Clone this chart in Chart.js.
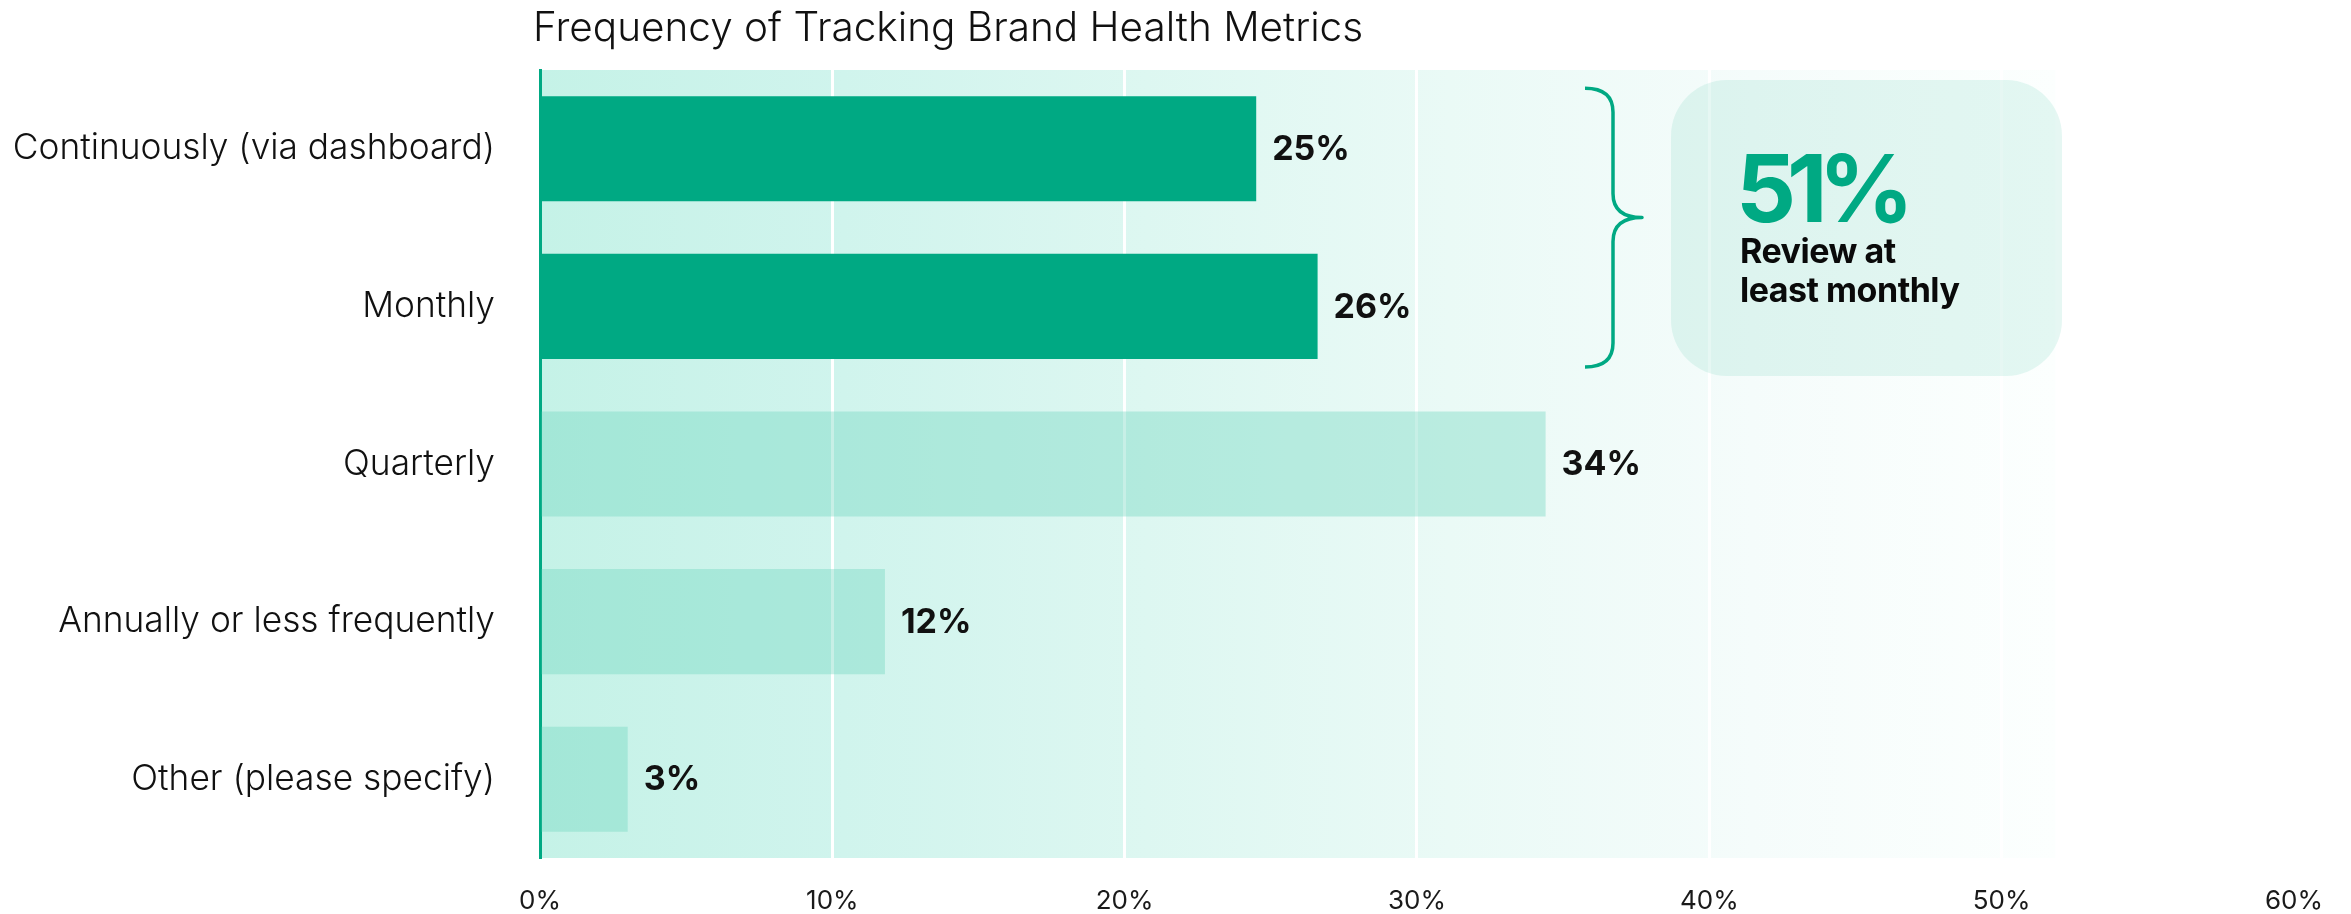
<!DOCTYPE html>
<html>
<head>
<meta charset="utf-8">
<script src="https://cdn.jsdelivr.net/npm/chart.js@4/dist/chart.umd.min.js"></script>
<style>
  html, body { margin: 0; padding: 0; background: #ffffff; }
  #wrap { width: 2351px; height: 914px; position: relative; }
  canvas { display: block; }
</style>
</head>
<body>
<div id="wrap"><canvas id="c" width="2351" height="914"></canvas></div>
<script>
// ---- data ----
const categories = [
  "Continuously (via dashboard)",
  "Monthly",
  "Quarterly",
  "Annually or less frequently",
  "Other (please specify)"
];
const shares = [24.5, 26.6, 34.4, 11.8, 3.0];
const valueLabels = ["25%", "26%", "34%", "12%", "3%"];
const highlighted = [true, true, false, false, false];
const xTicks = [0, 10, 20, 30, 40, 50, 60];
const chartTitle = "Frequency of Tracking Brand Health Metrics";
const calloutValue = "51%";
const calloutLines = ["Review at", "least monthly"];

// ---- styles ----
const GREEN = "#00A983";
const LIGHT = "rgba(111,213,191,0.39)";
const FONT = "Inter, 'Noto Sans', 'DejaVu Sans', sans-serif";

const backgroundPlugin = {
  id: "plotBackground",
  beforeDraw(chart) {
    const { ctx, chartArea: a } = chart;
    const right = a.left + (a.right - a.left) * 0.864;
    const g = ctx.createLinearGradient(a.left, 0, right, 0);
    g.addColorStop(0, "rgb(197,242,231)");
    g.addColorStop(0.2, "rgb(208,244,237)");
    g.addColorStop(0.4, "rgb(221,247,241)");
    g.addColorStop(0.6, "rgb(234,250,246)");
    g.addColorStop(0.8, "rgb(245,252,251)");
    g.addColorStop(1, "rgb(252,255,254)");
    ctx.save();
    ctx.fillStyle = g;
    ctx.fillRect(a.left, a.top, right - a.left, a.bottom - a.top);
    ctx.restore();
  }
};

const valueLabelPlugin = {
  id: "valueLabels",
  afterDatasetsDraw(chart) {
    const { ctx } = chart;
    const meta = chart.getDatasetMeta(0);
    ctx.save();
    ctx.font = "700 34px " + FONT;
    ctx.fillStyle = "#111111";
    ctx.textAlign = "left";
    ctx.textBaseline = "middle";
    meta.data.forEach((bar, i) => {
      ctx.fillText(valueLabels[i], bar.x + 16, bar.y + 1);
    });
    ctx.restore();
  }
};

const decorPlugin = {
  id: "decor",
  afterDraw(chart) {
    const { ctx } = chart;
    const meta = chart.getDatasetMeta(0);
    ctx.save();
    // title
    ctx.font = "300 40.5px " + FONT;
    ctx.fillStyle = "#111111";
    ctx.textAlign = "left";
    ctx.textBaseline = "alphabetic";
    ctx.fillText(chartTitle, 533, 41);

    // brace spanning highlighted bars
    const b0 = meta.data[0], b1 = meta.data[1];
    const top = b0.y - b0.height / 2 - 8;
    const bottom = b1.y + b1.height / 2 + 8;
    const mid = (top + bottom) / 2 - 10;
    const xL = 1585, xM = 1613, xT = 1642, r = 24;
    ctx.beginPath();
    ctx.moveTo(xL, top);
    ctx.quadraticCurveTo(xM, top, xM, top + r);
    ctx.lineTo(xM, mid - r);
    ctx.quadraticCurveTo(xM, mid, xT, mid);
    ctx.quadraticCurveTo(xM, mid, xM, mid + r);
    ctx.lineTo(xM, bottom - r);
    ctx.quadraticCurveTo(xM, bottom, xL, bottom);
    ctx.strokeStyle = GREEN;
    ctx.lineWidth = 3.5;
    ctx.lineJoin = "round";
    ctx.stroke();

    // callout box
    const bx = 1671, by = 80, bw = 391, bh = 296, br = 56;
    ctx.beginPath();
    ctx.roundRect(bx, by, bw, bh, br);
    ctx.fillStyle = "rgba(100,205,180,0.16)";
    ctx.fill();

    ctx.fillStyle = GREEN;
    ctx.font = "700 94px " + FONT;
    if ("letterSpacing" in ctx) ctx.letterSpacing = "-9px";
    ctx.fillText(calloutValue, 1736, 222);
    if ("letterSpacing" in ctx) ctx.letterSpacing = "-0.5px";
    ctx.fillStyle = "#0a0a0a";
    ctx.font = "700 34px " + FONT;
    ctx.fillText(calloutLines[0], 1740, 263);
    ctx.fillText(calloutLines[1], 1740, 302);
    ctx.restore();
  }
};

new Chart(document.getElementById("c"), {
  type: "bar",
  data: {
    labels: categories,
    datasets: [{
      data: shares,
      backgroundColor: highlighted.map(h => h ? GREEN : LIGHT),
      borderWidth: 0,
      barPercentage: 0.667,
      categoryPercentage: 1.0
    }]
  },
  options: {
    indexAxis: "y",
    responsive: false,
    animation: false,
    devicePixelRatio: 1,
    layout: { padding: { top: 70, right: 50, bottom: 0, left: 0 } },
    plugins: {
      legend: { display: false },
      title: { display: false },
      tooltip: { enabled: false }
    },
    scales: {
      x: {
        min: xTicks[0],
        max: xTicks[xTicks.length - 1],
        afterBuildTicks: s => { s.ticks = xTicks.map(v => ({ value: v })); },
        afterFit: s => { s.height = 56; },
        ticks: {
          callback: v => v + "%",
          font: { family: FONT, size: 26, weight: "400" },
          color: "#1a1a1a",
          padding: 28,
          maxRotation: 0
        },
        grid: { color: "#ffffff", lineWidth: 3, drawTicks: false },
        border: { display: false }
      },
      y: {
        afterFit: s => { s.width = 540; s.paddingTop = 0; s.paddingBottom = 0; },
        ticks: {
          font: { family: FONT, size: 35.3, weight: "300" },
          color: "#111111",
          padding: 45
        },
        grid: { display: false, drawTicks: false },
        border: { display: true, color: GREEN, width: 3 }
      }
    }
  },
  plugins: [backgroundPlugin, valueLabelPlugin, decorPlugin]
});
</script>
</body>
</html>
